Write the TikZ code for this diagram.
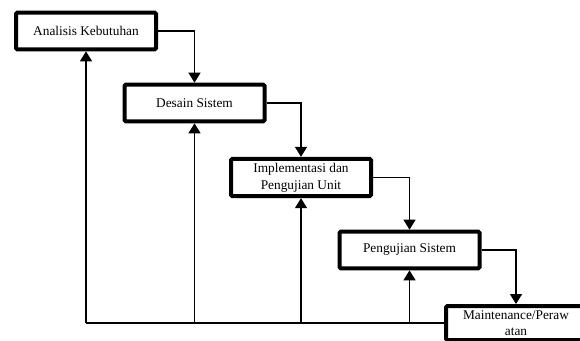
\documentclass[tikz,border=0pt]{standalone}
\usepackage{fontspec}
\setmainfont{Liberation Serif}
\usetikzlibrary{arrows.meta}
\begin{document}
\begin{tikzpicture}[x=0.75pt, y=-0.75pt,
  phase/.style={draw=black, line width=3pt, rounded corners=1pt, fill=white,
    minimum width=105pt, minimum height=27.5pt, inner sep=1pt,
    align=center, font=\fontsize{10}{12.5}\selectfont},
  flow/.style={draw=black, line width=1pt, -{Triangle[length=7.5pt, width=9pt]}},
  link/.style={draw=black, line width=1pt}]
  \useasboundingbox (0,0) rectangle (580,340);
  \clip (0,0) rectangle (580,340);

  % waterfall phases
  \node[phase] (analisis) at (86,31) {Analisis Kebutuhan};
  \node[phase] (desain) at (194.5,103) {Desain Sistem};
  \node[phase, minimum height=28pt] (impl) at (301,177.5) {Implementasi dan\\Pengujian Unit};
  \node[phase] (uji) at (409.5,250) {Pengujian Sistem};
  \node[phase, minimum height=25.5pt] (maint) at (516,323) {Maintenance/Peraw\\atan};

  % forward flow
  \draw[flow] (analisis.east) -| (desain.north);
  \draw[flow] (desain.east) -| (impl.north);
  \draw[flow] (impl.east) -| (uji.north);
  \draw[flow] (uji.east) -| (maint.north);

  % feedback lines back to earlier phases
  \coordinate (base) at (86,323);
  \draw[link] (base) -- (maint.west |- base);
  \draw[flow] (analisis.south |- base) -- (analisis.south);
  \draw[flow] (desain.south |- base) -- (desain.south);
  \draw[flow] (impl.south |- base) -- (impl.south);
  \draw[flow] (uji.south |- base) -- (uji.south);
\end{tikzpicture}
\end{document}
